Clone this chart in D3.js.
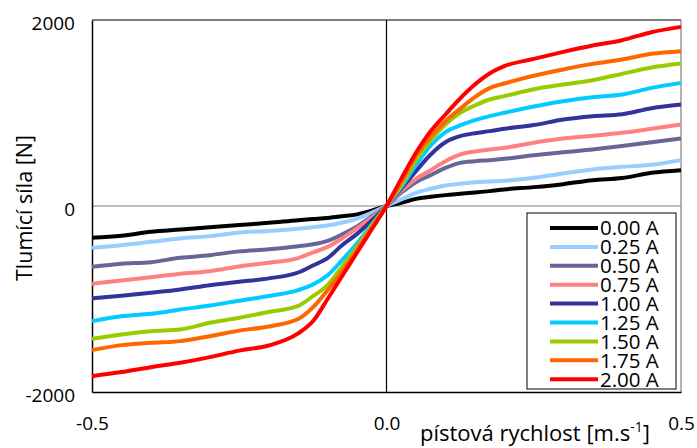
<!DOCTYPE html>
<html>
<head>
<meta charset="utf-8">
<script src="https://cdn.jsdelivr.net/npm/d3@7"></script>
<style>
  body { margin: 0; background: #fff; }
  svg text { font-family: "Open Sans", "DejaVu Sans", sans-serif; fill: #000; }
</style>
</head>
<body>
<svg id="chart" width="697" height="448"></svg>
<script>
// piston speed [m/s]
var speeds = [-0.5, -0.45, -0.4, -0.35, -0.3, -0.25, -0.2, -0.15, -0.125, -0.1, -0.075, -0.05, -0.025, 0,
  0.025, 0.05, 0.075, 0.1, 0.125, 0.15, 0.175, 0.2, 0.25, 0.3, 0.35, 0.4, 0.45, 0.5];

var currents = ["0.00 A", "0.25 A", "0.50 A", "0.75 A", "1.00 A", "1.25 A", "1.50 A", "1.75 A", "2.00 A"];
var colors = ["#000000", "#99ccff", "#666699", "#ff8080", "#333399", "#00ccff", "#99cc00", "#ff6600", "#ff0000"];

// damping force [N], one array per current
var force000 = [-342, -320, -278, -253, -228, -204, -181, -152, -140, -128, -110, -90, -50, 0,
  34, 77, 99, 117, 131, 145, 160, 178, 203, 235, 278, 300, 357, 385];
var force025 = [-449, -421, -385, -349, -324, -285, -268, -245, -228, -210, -178, -135, -72, 0,
  70, 142, 185, 221, 239, 256, 264, 271, 303, 350, 393, 421, 443, 493];
var force050 = [-654, -621, -604, -557, -529, -488, -465, -432, -412, -375, -305, -220, -112, 0,
  142, 256, 332, 410, 464, 482, 493, 507, 545, 579, 608, 644, 686, 726];
var force075 = [-836, -801, -765, -729, -701, -650, -610, -560, -500, -440, -345, -240, -125, 0,
  160, 292, 386, 482, 554, 586, 608, 626, 681, 726, 755, 787, 830, 876];
var force100 = [-994, -965, -933, -898, -851, -815, -778, -715, -640, -560, -420, -300, -155, 0,
  185, 375, 554, 686, 751, 783, 805, 830, 870, 930, 966, 987, 1052, 1091];
var force125 = [-1238, -1185, -1159, -1113, -1070, -1018, -968, -905, -845, -745, -580, -400, -200, 0,
  203, 439, 651, 794, 866, 923, 966, 1002, 1070, 1127, 1170, 1199, 1270, 1324];
var force150 = [-1428, -1381, -1346, -1328, -1256, -1202, -1140, -1075, -970, -850, -650, -440, -215, 0,
  224, 493, 708, 876, 1002, 1081, 1145, 1181, 1256, 1306, 1353, 1421, 1489, 1532];
var force175 = [-1550, -1496, -1471, -1453, -1400, -1340, -1295, -1215, -1090, -905, -700, -470, -232, 0,
  256, 536, 744, 912, 1045, 1170, 1267, 1317, 1400, 1468, 1528, 1575, 1636, 1665];
var force200 = [-1830, -1786, -1733, -1686, -1625, -1555, -1500, -1370, -1240, -1000, -750, -500, -250, 0,
  292, 572, 805, 984, 1156, 1306, 1425, 1503, 1582, 1657, 1726, 1783, 1869, 1926];

var series = [force000, force025, force050, force075, force100, force125, force150, force175, force200];

var yTicks = [-2000, 0, 2000];
var yTickLabels = ["-2000", "0", "2000"];
var xTicks = [-0.5, 0.0, 0.5];
var xTickLabels = ["-0.5", "0.0", "0.5"];

var plotLeft = 92, plotRight = 681, plotTop = 20, plotBottom = 392;

var chart = d3.select("#chart");

var x = d3.scaleLinear().domain([-0.5, 0.5]).range([plotLeft, plotRight]);
var y = d3.scaleLinear().domain([-2000, 2000]).range([plotBottom, plotTop]);

// plot frame
chart.append("line").attr("x1", plotLeft).attr("y1", plotTop).attr("x2", plotRight).attr("y2", plotTop)
  .attr("stroke", "#000").attr("stroke-width", 1.2);
chart.append("line").attr("x1", plotRight).attr("y1", plotTop).attr("x2", plotRight).attr("y2", plotBottom)
  .attr("stroke", "#808080").attr("stroke-width", 1.2);

// zero lines
chart.append("line").attr("x1", plotLeft).attr("y1", y(0)).attr("x2", plotRight).attr("y2", y(0))
  .attr("stroke", "#808080").attr("stroke-width", 1.2);
chart.append("line").attr("x1", x(0)).attr("y1", plotTop).attr("x2", x(0)).attr("y2", plotBottom)
  .attr("stroke", "#000").attr("stroke-width", 1.2);

// axes
var yAxis = d3.axisLeft(y).tickValues(yTicks).tickSize(0).tickPadding(17)
  .tickFormat(function (d, i) { return yTickLabels[i]; });
var gy = chart.append("g").attr("transform", "translate(" + plotLeft + ",0)").call(yAxis);
gy.select(".domain").attr("stroke", "#000").attr("stroke-width", 1.5);
gy.selectAll("text").style("font-size", "19px").attr("dy", 9.5);

var xAxis = d3.axisBottom(x).tickValues(xTicks).tickSize(0)
  .tickFormat(function (d, i) { return xTickLabels[i]; });
var gx = chart.append("g").attr("transform", "translate(0," + plotBottom + ")").call(xAxis);
gx.select(".domain").attr("stroke", "#000").attr("stroke-width", 1.5);
gx.selectAll("text").style("font-size", "19px").attr("y", 38).attr("dy", 0);

// curves
var line = d3.line()
  .x(function (d) { return x(d[0]); })
  .y(function (d) { return y(d[1]); })
  .curve(d3.curveMonotoneX);

chart.append("g")
  .selectAll("path")
  .data(series)
  .enter()
  .append("path")
  .attr("d", function (d) { return line(d.map(function (v, i) { return [speeds[i], v]; })); })
  .attr("fill", "none")
  .attr("stroke", function (d, i) { return colors[i]; })
  .attr("stroke-width", 4)
  .attr("stroke-linejoin", "round");

// legend
var legend = chart.append("g");
legend.append("rect")
  .attr("x", 527).attr("y", 213).attr("width", 149).attr("height", 176)
  .attr("fill", "#fff").attr("stroke", "#000").attr("stroke-width", 1);

var clip = chart.append("clipPath").attr("id", "legclip");
clip.append("rect").attr("x", 527).attr("y", 213).attr("width", 149).attr("height", 175.5);

var items = legend.append("g").attr("clip-path", "url(#legclip)")
  .selectAll("g")
  .data(currents)
  .enter()
  .append("g")
  .attr("transform", function (d, i) { return "translate(0," + (228 + i * 18.9) + ")"; });

items.append("line")
  .attr("x1", 550).attr("x2", 598)
  .attr("stroke", function (d, i) { return colors[i]; })
  .attr("stroke-width", 4);

items.append("text")
  .attr("x", 600).attr("y", 0).attr("dy", "0.36em")
  .style("font-size", "20.5px")
  .text(function (d) { return d; });

// axis titles
chart.append("text")
  .attr("transform", "translate(32,208) rotate(-90)")
  .attr("text-anchor", "middle")
  .style("font-size", "21.5px")
  .text("Tlumící síla [N]");

var xt = chart.append("text")
  .attr("x", 420).attr("y", 441)
  .style("font-size", "22px");
xt.append("tspan").text("pístová rychlost [m.s");
xt.append("tspan").attr("dy", -9).style("font-size", "14px").text("-1");
xt.append("tspan").attr("dy", 9).text("]");
</script>
</body>
</html>
